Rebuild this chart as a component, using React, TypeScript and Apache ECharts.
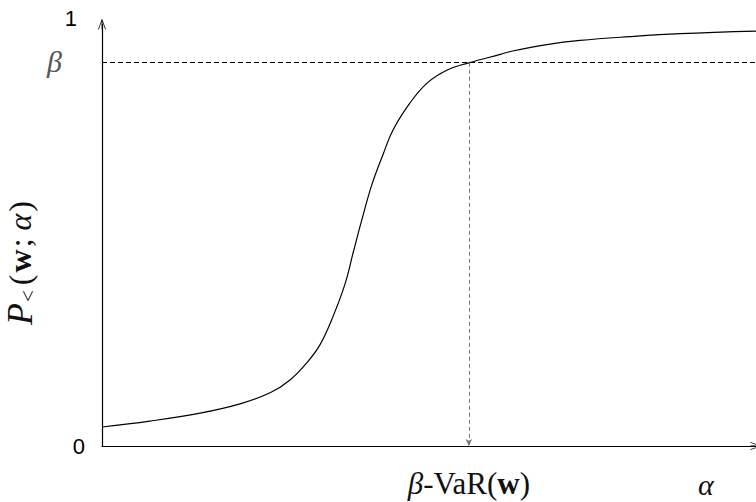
import React, { useEffect, useRef } from "react";
import * as echarts from "echarts";

// Curve P<(w; alpha) (x: alpha on [0,1], y: probability)
const alphaValues = [0, 0.073, 0.150, 0.211, 0.257, 0.287, 0.313, 0.333, 0.353, 0.372, 0.384, 0.398, 0.413, 0.430, 0.445, 0.471, 0.497, 0.528, 0.561, 0.609, 0.628, 0.680, 0.731, 0.807, 0.884, 1.0];
const probValues = [0.045, 0.059, 0.078, 0.100, 0.126, 0.156, 0.197, 0.239, 0.306, 0.386, 0.458, 0.540, 0.621, 0.692, 0.749, 0.813, 0.860, 0.891, 0.908, 0.928, 0.936, 0.951, 0.961, 0.970, 0.977, 0.983];
const betaLevel = 0.908;
const varAlpha = 0.561;
const yTicks = [0, 1];

const SERIF = "Liberation Serif, DejaVu Serif, serif";
const SANS = "Liberation Sans, Arial, sans-serif";
const arrowUp = "path://M5,0 L10,14 L9,14 L5.5,4 L5.5,14 L4.5,14 L4.5,4 L1,14 L0,14 Z";

export default function App() {
  const ref = useRef<HTMLDivElement>(null);
  useEffect(() => {
    if (!ref.current) return;
    const chart = echarts.init(ref.current, undefined, { renderer: "svg" });
    const data = alphaValues.map((a, i) => [a, probValues[i]]);
    chart.setOption({
      animation: false,
      backgroundColor: "#ffffff",
      grid: { left: 102, right: 0, top: 24, bottom: 56, containLabel: false, outerBoundsMode: "none" },
      xAxis: {
        type: "value",
        min: 0,
        max: 1,
        splitLine: { show: false },
        axisTick: { show: false },
        axisLabel: { show: false },
        axisLine: {
          show: true,
          lineStyle: { color: "#000", width: 1.2 },
          symbol: ["none", arrowUp],
          symbolSize: [8, 14],
        },
        name: "{a|α}",
        nameLocation: "end",
        nameGap: -58,
        nameTextStyle: {
          rich: {
            a: {
              fontFamily: SERIF,
              fontStyle: "italic",
              fontSize: 30,
              color: "#111",
              padding: [76, 0, 0, 0],
            },
          },
        },
      },
      yAxis: {
        type: "value",
        min: 0,
        max: 1,
        interval: 1,
        splitLine: { show: false },
        axisTick: { show: false },
        axisLine: {
          show: true,
          lineStyle: { color: "#000", width: 1.2 },
          symbol: ["none", arrowUp],
          symbolSize: [8, 14],
        },
        axisLabel: {
          margin: 17,
          customValues: yTicks,
          formatter: (v: number) => (v === 1 ? "{one|1}" : "{zero|0}"),
          rich: {
            one: { fontFamily: SANS, fontSize: 22, color: "#000", padding: [0, 8, 12, 0] },
            zero: { fontFamily: SANS, fontSize: 22, color: "#000" },
          },
        },
        name: "{p|P}{s|<}{t|(}{w|w}{t|;}{a|α}{t|)}",
        nameLocation: "middle",
        nameGap: 64,
        nameTextStyle: {
          padding: [0, 54, 0, 0],
          rich: {
            p: { fontFamily: SERIF, fontStyle: "italic", fontSize: 36, color: "#111" },
            s: { fontFamily: SERIF, fontSize: 21, color: "#111", padding: [16, 3, 0, 1] },
            t: { fontFamily: SERIF, fontSize: 32, color: "#111", padding: [0, 2, 0, 2] },
            w: { fontFamily: SERIF, fontWeight: "bold", fontSize: 32, color: "#111" },
            a: { fontFamily: SERIF, fontStyle: "italic", fontSize: 32, color: "#111", padding: [0, 0, 0, 6] },
          },
        },
      },
      series: [
        {
          type: "line",
          data,
          smooth: 0.4,
          showSymbol: false,
          symbol: "none",
          lineStyle: { color: "#000", width: 1.2 },
          markLine: {
            silent: true,
            symbol: ["none", "none"],
            data: [
              {
                yAxis: betaLevel,
                lineStyle: { color: "#000", type: [5, 3], width: 1 },
                label: {
                  show: true,
                  position: "start",
                  distance: 40,
                  formatter: "β",
                  fontFamily: SERIF,
                  fontStyle: "italic",
                  fontSize: 30,
                  color: "#555",
                },
              },
              [
                {
                  coord: [varAlpha, betaLevel],
                  symbol: "none",
                  lineStyle: { color: "#777", type: [4, 3], width: 1 },
                  label: {
                    show: true,
                    position: "end",
                    distance: 22,
                    formatter: "{b|β}{t|-VaR(}{w|w}{t|)}",
                    rich: {
                      b: { fontFamily: SERIF, fontStyle: "italic", fontSize: 31, color: "#111" },
                      t: { fontFamily: SERIF, fontSize: 31, color: "#111" },
                      w: { fontFamily: SERIF, fontWeight: "bold", fontSize: 31, color: "#111" },
                    },
                  },
                },
                { coord: [varAlpha, 0], symbol: "arrow", symbolSize: [5, 7] },
              ],
            ],
          },
        },
      ],
    });
    return () => chart.dispose();
  }, []);
  return <div ref={ref} style={{ width: 756, height: 502, position: "absolute", left: 0, top: 0 }} />;
}
